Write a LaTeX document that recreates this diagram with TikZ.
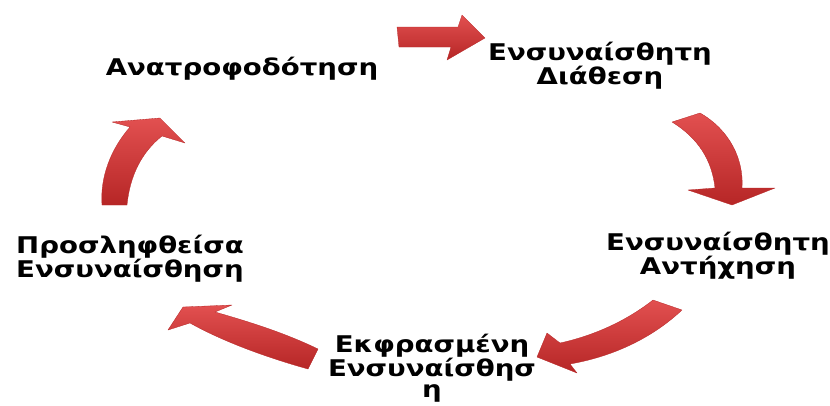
\documentclass[tikz,border=0pt]{standalone}
\usepackage{fontspec}
\setmainfont{DejaVu Sans}[FakeStretch=1.2]
\definecolor{arrowlight}{RGB}{226,80,80}
\definecolor{arrowdark}{RGB}{182,38,38}
\tikzset{
  stage/.style={align=center, font=\bfseries\fontsize{23}{22}\selectfont, inner sep=0pt},
  blockarrow/.style={top color=arrowlight, bottom color=arrowdark, draw=arrowdark, line width=0.3pt, line join=round}
}
\begin{document}
\begin{tikzpicture}[x=1pt, y=-1pt]
\useasboundingbox (0,0) rectangle (830,405);
\node[stage] (feedback) at (242,69) {Ανατροφοδότηση};
\node[stage] (mood) at (600,66) {Ενσυναίσθητη\\Διάθεση};
\node[stage] (echo) at (718,256) {Ενσυναίσθητη\\Αντήχηση};
\node[stage, font=\bfseries\fontsize{23}{21}\selectfont] (expressed) at (432,368) {Εκφρασμένη\\Ενσυναίσθησ\\η};
\node[stage] (received) at (130,259) {Προσληφθείσα\\Ενσυναίσθηση};
% cycle arrows
\shade[blockarrow] (397,27) -- (458,27) -- (462,15) -- (485,38) -- (447,60) -- (451,47) -- (399,47) -- cycle;
\shade[blockarrow] (672,122) -- (700,113) .. controls (730,130) and (744,160) .. (742,188)
  -- (775,188) -- (732,205) -- (688,190) -- (715,188) .. controls (712,160) and (698,138) .. cycle;
\shade[blockarrow] (653,300) -- (682,310) .. controls (650,340) and (610,357) .. (570,364)
  -- (577,373) -- (537,357) -- (547,333) -- (560,343) .. controls (592,336) and (625,322) .. cycle;
\shade[blockarrow] (318,349) -- (308,369) .. controls (265,357) and (222,341) .. (190,323)
  -- (168,330) -- (183,307) -- (232,305) -- (215,312) .. controls (250,322) and (285,333) .. cycle;
\shade[blockarrow] (102,205) -- (127,205) .. controls (130,175) and (142,152) .. (162,136)
  -- (185,143) -- (160,118) -- (112,122) -- (130,127) .. controls (110,150) and (100,178) .. cycle;
\end{tikzpicture}
\end{document}
